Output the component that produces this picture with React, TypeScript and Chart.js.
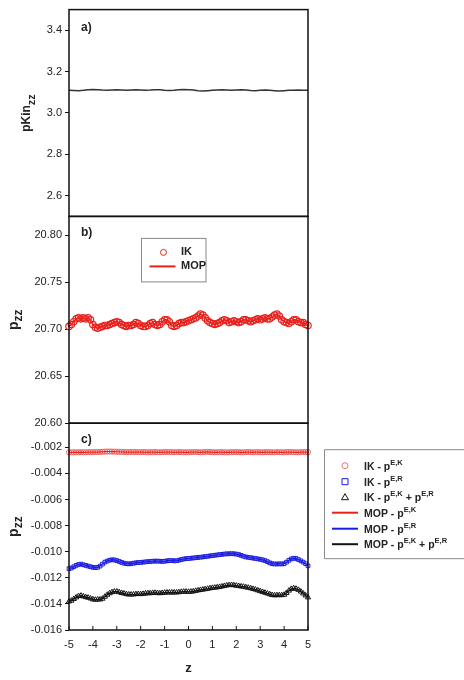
import React, { useEffect, useRef } from 'react';
import { Chart, registerables } from 'chart.js';

Chart.register(...registerables);

const FONT = '"Liberation Sans", Arial, Helvetica, sans-serif';

// ---- tick labels ----
const zTicks = [-5, -4, -3, -2, -1, 0, 1, 2, 3, 4, 5];
const kinTicks = [2.6, 2.8, 3.0, 3.2, 3.4];
const pzzBTicks = [20.6, 20.65, 20.7, 20.75, 20.8];
const pzzCTicks = [-0.016, -0.014, -0.012, -0.01, -0.008, -0.006, -0.004, -0.002];

// ---- z positions ----
const zCoarse = Array.from({ length: 51 }, (_, i) => Math.round((-5 + i * 0.2) * 10) / 10);
const zFine = Array.from({ length: 101 }, (_, i) => Math.round((-5 + i * 0.1) * 10) / 10);

// ---- panel a: kinetic p_zz (z step 0.2) ----
const kinPzz = [
  3.110, 3.109, 3.108, 3.110, 3.113, 3.114, 3.113, 3.111, 3.110, 3.111,
  3.112, 3.111, 3.110, 3.111, 3.112, 3.111, 3.110, 3.111, 3.113, 3.112,
  3.110, 3.109, 3.110, 3.112, 3.114, 3.113, 3.111, 3.108, 3.106, 3.108,
  3.110, 3.111, 3.112, 3.111, 3.110, 3.111, 3.112, 3.111, 3.109, 3.108,
  3.110, 3.111, 3.110, 3.108, 3.106, 3.108, 3.110, 3.110, 3.111, 3.110, 3.110,
];

// ---- panel b: total p_zz (z step 0.1) ----
const ikPzz = [
  20.703, 20.705, 20.708, 20.711, 20.712, 20.711, 20.712, 20.711, 20.712, 20.710,
  20.705, 20.702, 20.701, 20.702, 20.703, 20.704, 20.704, 20.705, 20.706, 20.707,
  20.708, 20.707, 20.705, 20.704, 20.703, 20.704, 20.704, 20.705, 20.707, 20.706,
  20.704, 20.703, 20.703, 20.704, 20.706, 20.707, 20.705, 20.704, 20.705, 20.708,
  20.710, 20.710, 20.708, 20.704, 20.703, 20.704, 20.706, 20.707, 20.707, 20.708,
  20.709, 20.710, 20.711, 20.712, 20.714, 20.716, 20.715, 20.712, 20.709, 20.707,
  20.706, 20.705, 20.706, 20.707, 20.709, 20.710, 20.709, 20.707, 20.708, 20.709,
  20.708, 20.707, 20.708, 20.710, 20.710, 20.709, 20.708, 20.709, 20.710, 20.711,
  20.710, 20.711, 20.712, 20.711, 20.711, 20.713, 20.715, 20.716, 20.714, 20.710,
  20.708, 20.707, 20.706, 20.708, 20.710, 20.710, 20.708, 20.707, 20.707, 20.705, 20.704,
];
const mopPzz = ikPzz;

// ---- panel c: components (z step 0.1) ----
const ikEK = [
  -0.00238, -0.00238, -0.00239, -0.00238, -0.00238, -0.00237, -0.00238, -0.00238, -0.00237, -0.00237,
  -0.00237, -0.00236, -0.00236, -0.00235, -0.00234, -0.00233, -0.00232, -0.00232, -0.00233, -0.00233,
  -0.00234, -0.00234, -0.00235, -0.00236, -0.00236, -0.00237, -0.00236, -0.00236, -0.00237, -0.00237,
  -0.00237, -0.00236, -0.00237, -0.00238, -0.00237, -0.00237, -0.00236, -0.00237, -0.00238, -0.00237,
  -0.00236, -0.00236, -0.00237, -0.00237, -0.00238, -0.00237, -0.00236, -0.00237, -0.00238, -0.00238,
  -0.00238, -0.00237, -0.00236, -0.00236, -0.00237, -0.00238, -0.00237, -0.00236, -0.00235, -0.00236,
  -0.00237, -0.00238, -0.00238, -0.00237, -0.00237, -0.00238, -0.00239, -0.00238, -0.00237, -0.00237,
  -0.00236, -0.00237, -0.00238, -0.00238, -0.00237, -0.00236, -0.00237, -0.00238, -0.00237, -0.00237,
  -0.00238, -0.00238, -0.00237, -0.00236, -0.00237, -0.00238, -0.00238, -0.00237, -0.00237, -0.00238,
  -0.00238, -0.00237, -0.00236, -0.00236, -0.00237, -0.00238, -0.00238, -0.00237, -0.00236, -0.00236, -0.00237,
];
const ikER = [
  -0.01130, -0.01125, -0.01115, -0.01105, -0.01098, -0.01095, -0.01100, -0.01105, -0.01110, -0.01115,
  -0.01120, -0.01122, -0.01120, -0.01110, -0.01095, -0.01080, -0.01072, -0.01065, -0.01062, -0.01063,
  -0.01068, -0.01075, -0.01082, -0.01088, -0.01092, -0.01093, -0.01092, -0.01088, -0.01085, -0.01083,
  -0.01082, -0.01080, -0.01078, -0.01076, -0.01075, -0.01073, -0.01072, -0.01072, -0.01073, -0.01074,
  -0.01073, -0.01070, -0.01068, -0.01068, -0.01070, -0.01069, -0.01065, -0.01060, -0.01056, -0.01053,
  -0.01052, -0.01050, -0.01048, -0.01046, -0.01044, -0.01042, -0.01040, -0.01037, -0.01035, -0.01032,
  -0.01030, -0.01027, -0.01025, -0.01022, -0.01020, -0.01018, -0.01016, -0.01016, -0.01015, -0.01016,
  -0.01018, -0.01022, -0.01028, -0.01035, -0.01040, -0.01043, -0.01046, -0.01049, -0.01052, -0.01055,
  -0.01058, -0.01062, -0.01068, -0.01076, -0.01085, -0.01092, -0.01094, -0.01094, -0.01093, -0.01094,
  -0.01092, -0.01080, -0.01066, -0.01055, -0.01050, -0.01052, -0.01060, -0.01070, -0.01080, -0.01092, -0.01108,
];
const ikSum = [
  -0.01381, -0.01375, -0.01362, -0.01350, -0.01340, -0.01337, -0.01342, -0.01348, -0.01352, -0.01358,
  -0.01365, -0.01368, -0.01366, -0.01366, -0.01360, -0.01345, -0.01330, -0.01318, -0.01310, -0.01305,
  -0.01305, -0.01310, -0.01316, -0.01320, -0.01325, -0.01328, -0.01328, -0.01327, -0.01325, -0.01324,
  -0.01325, -0.01323, -0.01320, -0.01318, -0.01318, -0.01316, -0.01315, -0.01317, -0.01318, -0.01316,
  -0.01314, -0.01312, -0.01312, -0.01313, -0.01312, -0.01312, -0.01310, -0.01307, -0.01306, -0.01306,
  -0.01307, -0.01306, -0.01304, -0.01300, -0.01296, -0.01293, -0.01290, -0.01287, -0.01284, -0.01280,
  -0.01277, -0.01275, -0.01273, -0.01270, -0.01266, -0.01262, -0.01258, -0.01256, -0.01255, -0.01257,
  -0.01260, -0.01263, -0.01266, -0.01268, -0.01272, -0.01276, -0.01280, -0.01285, -0.01290, -0.01296,
  -0.01302, -0.01308, -0.01314, -0.01320, -0.01326, -0.01332, -0.01334, -0.01333, -0.01333, -0.01333,
  -0.01330, -0.01316, -0.01298, -0.01285, -0.01280, -0.01284, -0.01292, -0.01305, -0.01320, -0.01335, -0.01350,
];
const mopEK = ikEK;
const mopER = ikER;
const mopSum = ikSum;

const RED = '#e8201c';
const PINK = 'rgba(232,70,70,0.75)';
const BLUE = '#1b1be0';
const BLACK = '#111111';
const TEXT = '#222222';

type Part = { t: string; size: number; dy: number };

function partsWidth(ctx: CanvasRenderingContext2D, parts: Part[], weight: string) {
  let w = 0;
  for (const p of parts) {
    ctx.font = `${weight} ${p.size}px ${FONT}`;
    w += ctx.measureText(p.t).width;
  }
  return w;
}
function drawParts(ctx: CanvasRenderingContext2D, x: number, y: number, parts: Part[], weight: string) {
  let cx = x;
  ctx.textAlign = 'left';
  ctx.textBaseline = 'middle';
  for (const p of parts) {
    ctx.font = `${weight} ${p.size}px ${FONT}`;
    ctx.fillText(p.t, cx, y + p.dy);
    cx += ctx.measureText(p.t).width;
  }
}

const pts = (xs: number[], ys: number[]) => ys.map((y, i) => ({ x: xs[i], y }));

const sup = (t: string): Part => ({ t, size: 7.5, dy: -4 });
const txt = (t: string): Part => ({ t, size: 10.5, dy: 0 });

const legendC: { parts: Part[]; kind: string; color: string }[] = [
  { parts: [txt('IK - p'), sup('E,K')], kind: 'circle', color: PINK },
  { parts: [txt('IK - p'), sup('E,R')], kind: 'rect', color: BLUE },
  { parts: [txt('IK - p'), sup('E,K'), txt(' + p'), sup('E,R')], kind: 'triangle', color: BLACK },
  { parts: [txt('MOP - p'), sup('E,K')], kind: 'line', color: RED },
  { parts: [txt('MOP - p'), sup('E,R')], kind: 'line', color: BLUE },
  { parts: [txt('MOP - p'), sup('E,K'), txt(' + p'), sup('E,R')], kind: 'line', color: BLACK },
];

function drawMarker(ctx: CanvasRenderingContext2D, kind: string, color: string, x: number, y: number) {
  ctx.save();
  ctx.strokeStyle = color;
  ctx.lineWidth = 1;
  ctx.beginPath();
  if (kind === 'circle') {
    ctx.arc(x, y, 3, 0, Math.PI * 2);
  } else if (kind === 'rect') {
    ctx.rect(x - 3, y - 3, 6, 6);
  } else if (kind === 'triangle') {
    ctx.moveTo(x, y - 3.5);
    ctx.lineTo(x + 3.5, y + 2.5);
    ctx.lineTo(x - 3.5, y + 2.5);
    ctx.closePath();
  } else {
    ctx.lineWidth = 2;
    ctx.moveTo(x - 13, y);
    ctx.lineTo(x + 13, y);
  }
  ctx.stroke();
  ctx.restore();
}

const decorPlugin = {
  id: 'decor',
  afterDatasetsDraw(chart: any) {
    const ctx: CanvasRenderingContext2D = chart.ctx;
    const area = chart.chartArea;
    const sc = chart.scales;
    ctx.save();
    // panel frames
    ctx.strokeStyle = BLACK;
    ctx.lineWidth = 1.5;
    for (const id of ['yA', 'yB', 'yC']) {
      const s = sc[id];
      ctx.strokeRect(area.left, s.top, area.right - area.left, s.bottom - s.top);
    }
    // inward x ticks on bottom panel
    ctx.lineWidth = 1;
    for (const v of zTicks) {
      const px = sc.x.getPixelForValue(v);
      ctx.beginPath();
      ctx.moveTo(px, area.bottom);
      ctx.lineTo(px, area.bottom - 4);
      ctx.stroke();
    }
    // panel labels
    ctx.fillStyle = TEXT;
    ctx.font = `bold 12px ${FONT}`;
    ctx.textAlign = 'left';
    ctx.textBaseline = 'middle';
    ctx.fillText('a)', area.left + 12, sc.yA.top + 18);
    ctx.fillText('b)', area.left + 12, sc.yB.top + 16);
    ctx.fillText('c)', area.left + 12, sc.yC.top + 16);

    // y titles (rotated)
    const titles: { x: number; s: any; parts: Part[] }[] = [
      { x: 27, s: sc.yA, parts: [{ t: 'pKin', size: 12, dy: 0 }, { t: 'zz', size: 11, dy: 5 }] },
      { x: 14, s: sc.yB, parts: [{ t: 'p', size: 14, dy: 0 }, { t: 'zz', size: 12, dy: 5 }] },
      { x: 14, s: sc.yC, parts: [{ t: 'p', size: 14, dy: 0 }, { t: 'zz', size: 12, dy: 5 }] },
    ];
    for (const t of titles) {
      const w = partsWidth(ctx, t.parts, 'bold');
      ctx.save();
      ctx.translate(t.x, (t.s.top + t.s.bottom) / 2);
      ctx.rotate(-Math.PI / 2);
      drawParts(ctx, -w / 2, 0, t.parts, 'bold');
      ctx.restore();
    }

    // legend panel b
    ctx.strokeStyle = '#888888';
    ctx.lineWidth = 1;
    ctx.strokeRect(141.5, sc.yB.top + 22, 64.5, 43.5);
    drawMarker(ctx, 'circle', RED, 163.5, sc.yB.top + 36);
    drawMarker(ctx, 'line', RED, 162.5, sc.yB.top + 50);
    ctx.fillStyle = TEXT;
    drawParts(ctx, 181, sc.yB.top + 36, [{ t: 'IK', size: 11, dy: 0 }], 'bold');
    drawParts(ctx, 181, sc.yB.top + 50, [{ t: 'MOP', size: 11, dy: 0 }], 'bold');

    // legend panel c (outside right)
    const ly0 = sc.yC.top + 26.5;
    ctx.strokeStyle = '#888888';
    ctx.beginPath();
    ctx.moveTo(470, ly0);
    ctx.lineTo(324.5, ly0);
    ctx.lineTo(324.5, ly0 + 109);
    ctx.lineTo(470, ly0 + 109);
    ctx.stroke();
    const rowY = [16, 32, 47.5, 63, 79, 94.5];
    legendC.forEach((e, i) => {
      const y = ly0 + rowY[i];
      drawMarker(ctx, e.kind, e.color, 345, y);
      ctx.fillStyle = TEXT;
      drawParts(ctx, 364, y + 1, e.parts, 'bold');
    });
    ctx.restore();
  },
};

function yAxis(min: number, max: number, ticks: number[], digits: number) {
  return {
    type: 'linear',
    position: 'left',
    stack: 'panels',
    stackWeight: 1,
    min,
    max,
    afterBuildTicks: (s: any) => {
      s.ticks = ticks.map((v) => ({ value: v }));
    },
    afterFit: (s: any) => {
      s.width = 69;
    },
    grid: { display: true, drawOnChartArea: false, drawTicks: true, tickLength: 4, color: BLACK, lineWidth: 1 },
    border: { display: false },
    ticks: {
      autoSkip: false,
      padding: 3,
      color: TEXT,
      font: { family: FONT, size: 11 },
      callback: (v: any) => Number(v).toFixed(digits),
    },
  };
}

export default function App() {
  const ref = useRef<HTMLCanvasElement>(null);
  useEffect(() => {
    if (!ref.current) return;
    const common = { showLine: false, pointBorderWidth: 1, pointBackgroundColor: 'rgba(0,0,0,0)', clip: false as any };
    const chart = new Chart(ref.current, {
      type: 'line',
      data: {
        datasets: [
          { label: 'kin', yAxisID: 'yA', data: pts(zCoarse, kinPzz), borderColor: '#333', borderWidth: 1.5, pointRadius: 0, tension: 0 },
          { label: 'MOP', yAxisID: 'yB', data: pts(zFine, mopPzz), borderColor: RED, borderWidth: 1.5, pointRadius: 0, tension: 0 },
          { label: 'IK', yAxisID: 'yB', data: pts(zFine, ikPzz), ...common, pointRadius: 3.2, pointStyle: 'circle', pointBorderColor: RED, pointBorderWidth: 1.2 },
          { label: 'MOP EK', yAxisID: 'yC', data: pts(zFine, mopEK), borderColor: RED, borderWidth: 1.2, pointRadius: 0 },
          { label: 'MOP ER', yAxisID: 'yC', data: pts(zFine, mopER), borderColor: BLUE, borderWidth: 1.2, pointRadius: 0 },
          { label: 'MOP sum', yAxisID: 'yC', data: pts(zFine, mopSum), borderColor: BLACK, borderWidth: 1.2, pointRadius: 0 },
          { label: 'IK EK', yAxisID: 'yC', data: pts(zFine, ikEK), ...common, pointRadius: 2.6, pointStyle: 'circle', pointBorderColor: PINK },
          { label: 'IK ER', yAxisID: 'yC', data: pts(zFine, ikER), ...common, pointRadius: 2.6, pointStyle: 'rect', pointBorderColor: BLUE },
          { label: 'IK sum', yAxisID: 'yC', data: pts(zFine, ikSum), ...common, pointRadius: 3, pointStyle: 'triangle', pointBorderColor: BLACK },
        ] as any,
      },
      options: {
        animation: false,
        responsive: false,
        devicePixelRatio: 1,
        layout: { padding: { left: 0, top: 8, right: 156, bottom: 0 } },
        plugins: { legend: { display: false }, tooltip: { enabled: false } },
        scales: {
          x: {
            type: 'linear',
            min: -5,
            max: 5,
            afterBuildTicks: (s: any) => {
              s.ticks = zTicks.map((v) => ({ value: v }));
            },
            afterFit: (s: any) => {
              s.height = 50;
            },
            grid: { display: false, drawTicks: false },
            border: { display: false },
            ticks: { autoSkip: false, padding: 8, color: TEXT, font: { family: FONT, size: 11 } },
            title: { display: true, text: 'z', color: TEXT, font: { family: FONT, size: 13, weight: 'bold' }, padding: { top: 0, bottom: 4 } },
          },
          yC: yAxis(-0.016, -0.00015, pzzCTicks, 3),
          yB: yAxis(20.6, 20.82, pzzBTicks, 2),
          yA: yAxis(2.5, 3.5, kinTicks, 1),
        } as any,
      },
      plugins: [decorPlugin],
    });
    return () => chart.destroy();
  }, []);
  return (
    <div style={{ position: 'absolute', left: 0, top: 0, width: 464, height: 680, background: '#fff' }}>
      <canvas ref={ref} width={464} height={680} style={{ display: 'block' }} />
    </div>
  );
}
